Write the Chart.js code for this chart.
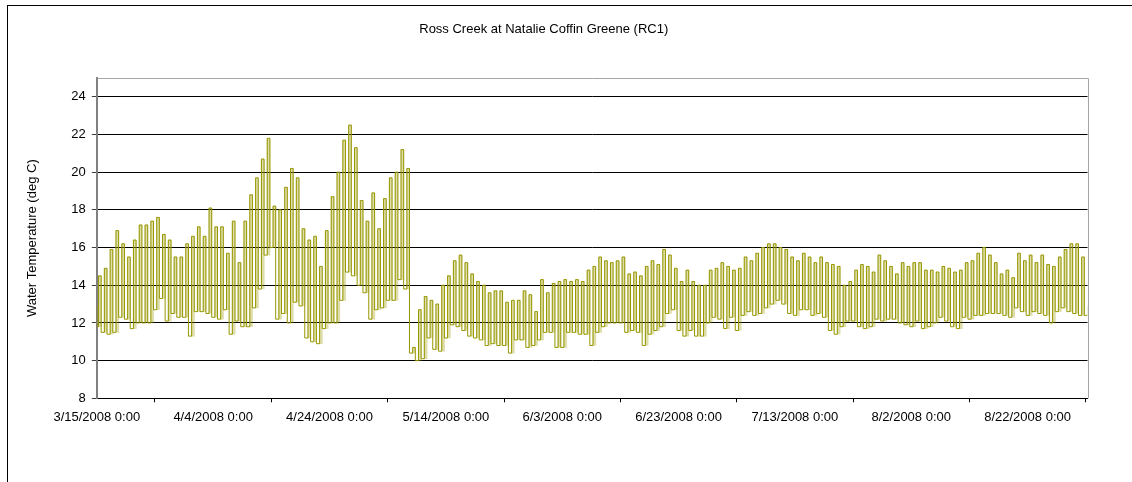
<!DOCTYPE html>
<html>
<head>
<meta charset="utf-8">
<title>Ross Creek at Natalie Coffin Greene (RC1)</title>
<script src="https://cdn.jsdelivr.net/npm/chart.js@4.4.1/dist/chart.umd.min.js"></script>
<style>
  html, body { margin: 0; padding: 0; background: #ffffff; }
  #wrap { position: relative; width: 1132px; height: 482px; }
</style>
</head>
<body>
<div id="wrap"><canvas id="c" width="1132" height="482"></canvas></div>
<script>
// ---- labels ----
const chartTitle = 'Ross Creek at Natalie Coffin Greene (RC1)';
const yAxisTitle = 'Water Temperature (deg C)';

// ---- time base: logger record starts 3/15/2008 0:00, one entry per day ----
const startYear = 2008, startMonth = 3, startDay = 15;
const firstReading = 12.9;            // 3/15/2008 0:00
const recordEndDays = 170.3;          // last logged time, days after start

// daily minimum water temperature (deg C)
const dailyLow = [
  11.8, 11.5, 11.4, 11.5, 12.3, 12.2, 11.7, 12.0, 12.0, 12.0,
  12.7, 13.3, 12.1, 12.5, 12.3, 12.3, 11.3, 12.6, 12.6, 12.5,
  12.3, 12.2, 12.7, 11.4, 12.1, 11.8, 11.8, 12.8, 13.8, 15.6,
  16.0, 12.2, 12.5, 12.0, 13.1, 12.9, 11.2, 11.0, 10.9, 11.7,
  12.0, 12.0, 13.2, 14.7, 14.5, 14.0, 13.6, 12.2, 12.7, 12.8,
  13.2, 13.2, 14.3, 13.8, 10.4, 10.0, 10.1, 11.2, 10.6, 10.5,
  11.2, 11.9, 11.8, 11.6, 11.3, 11.2, 11.1, 10.8, 10.9, 10.8,
  10.8, 10.4, 11.1, 11.1, 10.7, 10.8, 11.1, 11.5, 11.5, 10.7,
  10.7, 11.5, 11.5, 11.4, 11.4, 10.8, 11.5, 11.8, 12.0, 12.0,
  12.0, 11.5, 11.6, 11.5, 10.8, 11.4, 11.6, 11.8, 12.5, 12.7,
  11.6, 11.3, 11.6, 11.3, 11.3, 12.0, 12.3, 12.2, 11.7, 12.3,
  11.6, 12.4, 12.6, 12.4, 12.5, 12.8, 13.0, 13.2, 13.0, 12.5,
  12.4, 12.7, 12.7, 12.4, 12.5, 12.3, 11.6, 11.4, 11.8, 12.1,
  12.1, 11.8, 11.7, 11.8, 12.2, 12.1, 12.2, 12.2, 12.0, 11.9,
  11.8, 12.1, 11.7, 11.8, 12.0, 12.3, 12.1, 11.8, 11.7, 12.3,
  12.2, 12.4, 12.4, 12.5, 12.5, 12.5, 12.4, 12.3, 12.8, 12.6,
  12.4, 12.6, 12.5, 12.4, 12.0, 12.6, 12.8, 12.6, 12.5, 12.4,
  12.4
];

// daily maximum water temperature (deg C)
const dailyHigh = [
  14.5, 14.9, 15.9, 16.9, 16.2, 15.5, 16.4, 17.2, 17.2, 17.4,
  17.6, 16.7, 16.4, 15.5, 15.5, 16.2, 16.6, 17.1, 16.6, 18.1,
  17.1, 17.1, 15.7, 17.4, 15.2, 17.4, 18.8, 19.7, 20.7, 21.8,
  18.2, 18.0, 19.2, 20.2, 19.7, 17.0, 16.4, 16.6, 15.0, 16.9,
  18.7, 20.0, 21.7, 22.5, 21.3, 18.5, 17.4, 18.9, 17.0, 18.6,
  19.7, 20.0, 21.2, 20.2, 10.7, 12.7, 13.4, 13.2, 13.0, 14.0,
  14.5, 15.3, 15.6, 15.2, 14.6, 14.2, 14.0, 13.6, 13.7, 13.7,
  13.1, 13.2, 13.2, 13.7, 13.5, 12.6, 14.3, 13.6, 14.1, 14.2,
  14.3, 14.2, 14.3, 14.2, 14.8, 15.0, 15.5, 15.3, 15.2, 15.3,
  15.5, 14.6, 14.7, 14.5, 15.0, 15.3, 15.1, 15.9, 15.6, 14.9,
  14.2, 14.8, 14.2, 14.0, 14.0, 14.8, 14.9, 15.2, 15.0, 14.8,
  14.9, 15.5, 15.3, 15.7, 16.0, 16.2, 16.2, 16.0, 15.9, 15.5,
  15.3, 15.7, 15.5, 15.2, 15.5, 15.2, 15.1, 15.0, 14.0, 14.2,
  14.8, 15.1, 15.0, 14.7, 15.6, 15.3, 15.0, 14.6, 15.2, 15.0,
  15.2, 15.2, 14.8, 14.8, 14.7, 15.0, 14.9, 14.7, 14.8, 15.2,
  15.3, 15.7, 16.0, 15.6, 15.2, 14.6, 14.8, 14.4, 15.7, 15.3,
  15.6, 15.2, 15.6, 15.1, 15.0, 15.5, 15.9, 16.2, 16.2, 15.5,
  12.9
];

// ---- axis settings ----
const yMin = 8, yMax = 25, yStep = 2;
const xStepDays = 20;

// time of day (fraction) at which the daily low / high is logged
const lowAt = 0.3;
const highAt = 0.75;

const FONT = 'Liberation Sans, Arial, Helvetica, sans-serif';
const LINE_COLOR = '#979700';

// stepped temperature trace built from the daily extremes
const trace = [{ x: 0, y: firstReading }];
dailyLow.forEach((lo, i) => {
  trace.push({ x: i + lowAt, y: lo });
  trace.push({ x: i + highAt, y: dailyHigh[i] });
});

// light daily band between the low and the high
const dailyBand = dailyLow.map((lo, i) => ({ x: i + (lowAt + highAt) / 2, y: [lo, dailyHigh[i]] }));

function dateLabel(days) {
  const d = new Date(startYear, startMonth - 1, startDay + Math.round(days));
  return (d.getMonth() + 1) + '/' + d.getDate() + '/' + d.getFullYear() + ' 0:00';
}

// white page, outer chart frame and the plot-area outline
const chartFrame = {
  id: 'chartFrame',
  beforeDraw(chart) {
    const ctx = chart.ctx;
    ctx.save();
    ctx.fillStyle = '#ffffff';
    ctx.fillRect(0, 0, chart.width, chart.height);
    ctx.strokeStyle = '#000000';
    ctx.lineWidth = 1;
    ctx.strokeRect(7.5, 5.5, chart.width + 20, chart.height + 20);
    ctx.restore();
  },
  beforeDatasetsDraw(chart) {
    const { ctx, chartArea: a } = chart;
    ctx.save();
    ctx.strokeStyle = '#a6a6a6';
    ctx.lineWidth = 1;
    ctx.beginPath();
    ctx.moveTo(a.left, Math.round(a.top) + 0.5);
    ctx.lineTo(Math.round(a.right) + 0.5, Math.round(a.top) + 0.5);
    ctx.lineTo(Math.round(a.right) + 0.5, a.bottom);
    ctx.stroke();
    ctx.restore();
  }
};

new Chart(document.getElementById('c'), {
  type: 'line',
  data: {
    datasets: [
      {
        type: 'line',
        label: 'Water temperature',
        data: trace,
        borderColor: LINE_COLOR,
        borderWidth: 1,
        pointRadius: 0,
        stepped: 'after',
        tension: 0,
        fill: false,
        order: 1
      },
      {
        type: 'bar',
        label: 'Daily range',
        data: dailyBand,
        backgroundColor: 'rgba(151,151,0,0.32)',
        borderWidth: 0,
        barThickness: 3,
        grouped: false,
        order: 2
      }
    ]
  },
  options: {
    responsive: false,
    devicePixelRatio: 1,
    animation: false,
    events: [],
    layout: { padding: { left: 0, top: 0, right: 44.5, bottom: 43.7 } },
    plugins: {
      legend: { display: false },
      tooltip: { enabled: false },
      title: {
        display: true,
        text: chartTitle,
        color: '#000000',
        font: { family: FONT, size: 13, weight: 'normal' },
        padding: { top: 22, bottom: 40.4 }
      }
    },
    scales: {
      x: {
        type: 'linear',
        min: 0,
        max: recordEndDays,
        offset: false,
        ticks: {
          stepSize: xStepDays,
          includeBounds: false,
          autoSkip: false,
          maxRotation: 0,
          minRotation: 0,
          color: '#000000',
          padding: 7,
          font: { family: FONT, size: 13 },
          callback: (v) => dateLabel(v)
        },
        grid: { drawOnChartArea: false, drawTicks: true, tickLength: 4, color: '#000000' },
        border: { color: '#000000', width: 1 },
        afterFit(scale) { scale.height = 40; }
      },
      y: {
        min: yMin,
        max: yMax,
        ticks: {
          stepSize: yStep,
          includeBounds: false,
          color: '#000000',
          padding: 6,
          font: { family: FONT, size: 13 }
        },
        grid: { color: '#000000', tickColor: '#404040', tickLength: 5, drawTicks: true },
        border: { color: '#808080', width: 2 },
        title: {
          display: true,
          text: yAxisTitle,
          color: '#000000',
          font: { family: FONT, size: 13 },
          padding: { top: 25, bottom: 0 }
        },
        afterFit(scale) { scale.width = 96.8; }
      }
    }
  },
  plugins: [chartFrame]
});
</script>
</body>
</html>
